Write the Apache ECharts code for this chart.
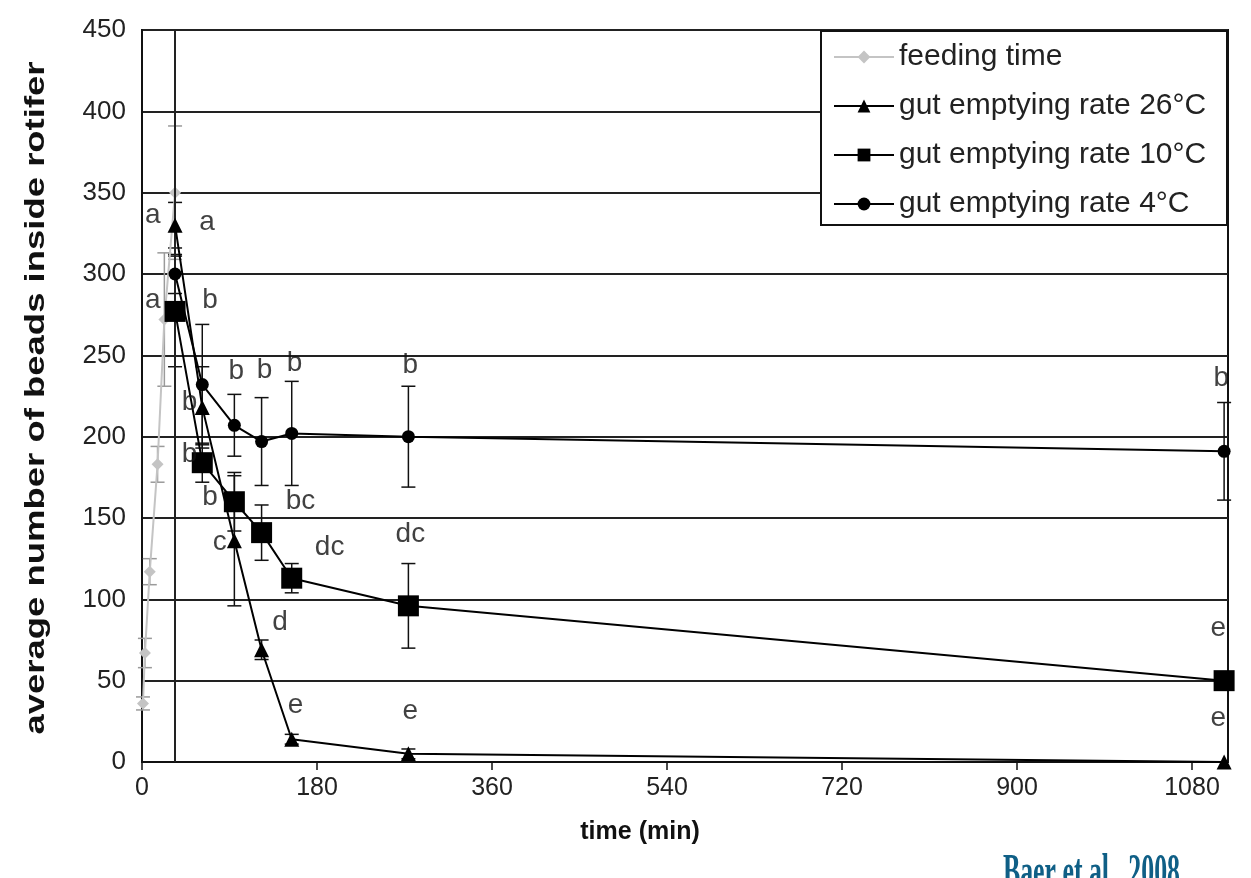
<!DOCTYPE html>
<html lang="en">
<head>
    <meta charset="UTF-8">
    <title>Beads inside rotifer</title>
</head>
<body style="margin:0">
<div id="main" style="height: 878px;width: 1251px"></div>
</body>
<script src="https://cdn.jsdelivr.net/npm/echarts@6.0.0/dist/echarts.min.js"></script>
<script>
    // feeding (0-34 min)
    var feedTime = [1, 3, 8, 16, 23, 34];
    var feedVal = [36, 67, 117, 183, 272, 350];
    var feedErr = [4, 9, 8, 11, 41, 41];

    // gut emptying, same time points for all temps
    var gutTime = [34, 62, 95, 123, 154, 274, 1113];
    var val26 = [330, 218, 136, 69, 14, 5, 0];
    var err26 = [14, 25, 40, 6, 3, 3, 0];
    var val10 = [277, 184, 160, 141, 113, 96, 50];
    var err10 = [34, 12, 18, 17, 9, 26, 0];
    var val4 = [300, 232, 207, 197, 202, 200, 191];
    var err4 = [12, 37, 19, 27, 32, 31, 30];

    var xTicks = [0, 180, 360, 540, 720, 900, 1080];
    var yTicks = [0, 50, 100, 150, 200, 250, 300, 350, 400, 450];

    // significance letters: [time, value, text]
    var letters = [
        [11, 336, 'a'], [67, 332, 'a'], [11, 284, 'a'], [70, 284, 'b'],
        [49, 221, 'b'], [97, 240, 'b'], [126, 241, 'b'], [157, 245, 'b'],
        [49, 189, 'b'], [70, 163, 'b'], [163, 160, 'bc'], [80, 135, 'c'],
        [193, 132, 'dc'], [276, 140, 'dc'], [142, 86, 'd'], [158, 35, 'e'],
        [276, 31, 'e'], [276, 244, 'b'], [1110, 236, 'b'], [1107, 82, 'e'],
        [1107, 27, 'e']
    ];

    function pairs(xs, ys) {
        return xs.map(function (x, i) { return [x, ys[i]]; });
    }

    function bars(xs, ys, es) {
        var out = [];
        xs.forEach(function (x, i) {
            if (es[i] > 0) out.push([x, ys[i] - es[i], ys[i] + es[i]]);
        });
        return out;
    }

    function errorSeries(data, color) {
        return {
            type: 'custom',
            data: data,
            z: 3,
            silent: true,
            renderItem: function (params, api) {
                var lo = api.coord([api.value(0), api.value(1)]);
                var hi = api.coord([api.value(0), api.value(2)]);
                var w = 7;
                var st = {stroke: color, lineWidth: 1.5};
                return {
                    type: 'group',
                    children: [
                        {type: 'line', shape: {x1: lo[0], y1: lo[1], x2: hi[0], y2: hi[1]}, style: st},
                        {type: 'line', shape: {x1: lo[0] - w, y1: lo[1], x2: lo[0] + w, y2: lo[1]}, style: st},
                        {type: 'line', shape: {x1: hi[0] - w, y1: hi[1], x2: hi[0] + w, y2: hi[1]}, style: st}
                    ]
                };
            }
        };
    }

    var font = 'Liberation Sans, Arial, sans-serif';
    var myChart = echarts.init(document.getElementById('main'));

    var option = {
        animation: false,
        backgroundColor: '#fff',
        grid: {
            left: 142, right: 23, top: 30, bottom: 116,
            show: true, borderColor: '#111', borderWidth: 2
        },
        legend: {
            data: ['feeding time', 'gut emptying rate 26°C', 'gut emptying rate 10°C', 'gut emptying rate 4°C'],
            orient: 'vertical',
            left: 821, top: 31,
            z: 60,
            padding: [11, 10, 12, 12],
            itemGap: 19,
            itemWidth: 60,
            itemHeight: 16,
            textStyle: {fontFamily: font, fontSize: 30, lineHeight: 28, color: '#222'}
        },
        xAxis: {
            type: 'value',
            min: 0, max: 1117, interval: 180,
            name: 'time (min)',
            nameLocation: 'middle',
            nameGap: 58,
            nameTextStyle: {fontFamily: font, fontSize: 25, fontWeight: 'bold', color: '#111', padding: [0, 90, 0, 0]},
            axisLine: {lineStyle: {color: '#111', width: 2}},
            axisTick: {show: true, length: 8, lineStyle: {color: '#111', width: 1.5}},
            axisLabel: {
                fontFamily: font, fontSize: 25, color: '#222', margin: 14,
                showMaxLabel: false,
                formatter: function (v) { return xTicks.indexOf(v) >= 0 ? v : ''; }
            },
            splitLine: {show: false}
        },
        yAxis: {
            type: 'value',
            min: 0, max: 450, interval: 50,
            axisLine: {lineStyle: {color: '#111', width: 2}},
            axisTick: {show: false},
            axisLabel: {
                fontFamily: font, fontSize: 26, color: '#222', margin: 16,
                formatter: function (v) { return yTicks.indexOf(v) >= 0 ? v : ''; }
            },
            splitLine: {lineStyle: {color: '#222', width: 2}}
        },
        graphic: [
            {
                // legend frame, stretched to the plot's right border
                type: 'rect',
                z: 50,
                silent: true,
                shape: {x: 821, y: 31, width: 406, height: 194},
                style: {fill: '#fff', stroke: '#111', lineWidth: 2}
            },
            {
                type: 'text',
                x: 36, y: 398,
                rotation: Math.PI / 2,
                scaleX: 1.52, scaleY: 1.15,
                style: {
                    text: 'average number of beads inside rotifer',
                    font: 'bold 24px "Liberation Sans", Arial, sans-serif',
                    fill: '#111',
                    align: 'center',
                    verticalAlign: 'middle'
                }
            },
            {
                type: 'text',
                x: 1003, y: 851,
                scaleX: 0.86, scaleY: 1.6,
                style: {
                    text: 'Baer et al., 2008',
                    font: 'bold 30px "Liberation Serif", "Times New Roman", serif',
                    fill: '#0f5f86',
                    align: 'left',
                    verticalAlign: 'top'
                }
            }
        ],
        series: [
            {
                name: 'feeding time',
                type: 'line',
                data: pairs(feedTime, feedVal),
                symbol: 'diamond',
                symbolSize: 12,
                z: 4,
                itemStyle: {color: '#c4c4c4'},
                lineStyle: {color: '#c4c4c4', width: 2},
                markLine: {
                    silent: true,
                    symbol: 'none',
                    label: {show: false},
                    lineStyle: {color: '#222', width: 2, type: 'solid'},
                    data: [{xAxis: 34}]
                }
            },
            {
                name: 'gut emptying rate 26°C',
                type: 'line',
                data: pairs(gutTime, val26),
                symbol: 'triangle',
                symbolSize: 15,
                z: 5,
                itemStyle: {color: '#000'},
                lineStyle: {color: '#000', width: 2}
            },
            {
                name: 'gut emptying rate 10°C',
                type: 'line',
                data: pairs(gutTime, val10),
                symbol: 'rect',
                symbolSize: 21,
                z: 5,
                itemStyle: {color: '#000'},
                lineStyle: {color: '#000', width: 2}
            },
            {
                name: 'gut emptying rate 4°C',
                type: 'line',
                data: pairs(gutTime, val4),
                symbol: 'circle',
                symbolSize: 13,
                z: 5,
                itemStyle: {color: '#000'},
                lineStyle: {color: '#000', width: 2}
            },
            errorSeries(bars(feedTime, feedVal, feedErr), '#9a9a9a'),
            errorSeries(bars(gutTime, val26, err26), '#111'),
            errorSeries(bars(gutTime, val10, err10), '#111'),
            errorSeries(bars(gutTime, val4, err4), '#111'),
            {
                type: 'scatter',
                data: letters,
                symbolSize: 0,
                silent: true,
                z: 6,
                label: {
                    show: true,
                    position: 'inside',
                    fontFamily: font,
                    fontSize: 28,
                    color: '#111',
                    formatter: function (p) { return p.data[2]; }
                }
            }
        ]
    };

    myChart.setOption(option);
</script>
</html>
